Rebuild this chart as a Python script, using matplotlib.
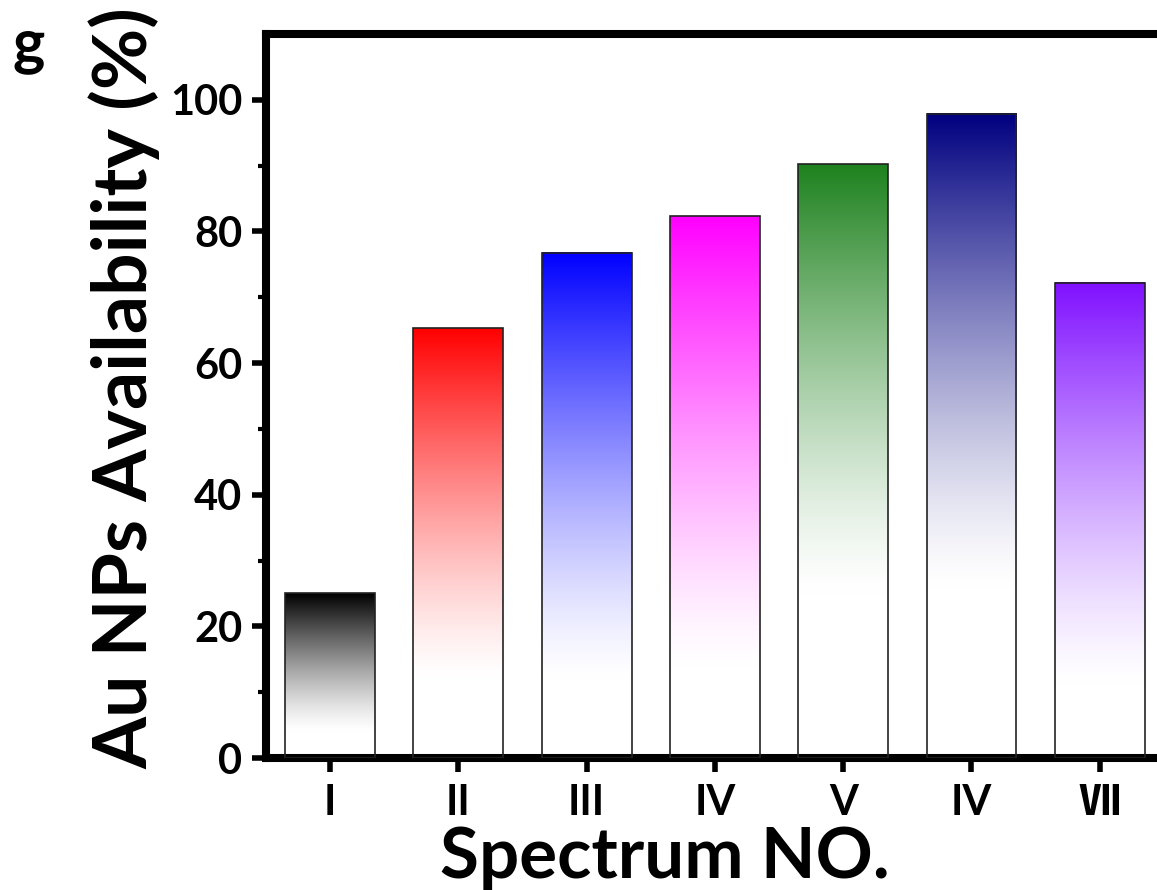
import numpy as np
import matplotlib
matplotlib.use("Agg")
import matplotlib.pyplot as plt
from matplotlib.colors import to_rgb

# ---- data ----
categories = ["I", "II", "III", "IV", "V", "IV", "Ⅶ"]
values = [25.0, 65.3, 76.8, 82.3, 90.2, 97.9, 72.2]
colors = ["#000000", "#ff0000", "#0000ff", "#ff00ff", "#1e821e", "#000080", "#8010ff"]
fade_levels = [4, 12, 12, 14, 25, 26, 11]  # value where gradient reaches white

plt.rcParams['font.family'] = ['Lato', 'Noto Sans CJK SC', 'DejaVu Sans']
plt.rcParams['font.weight'] = 'bold'

fig = plt.figure(figsize=(11.57, 8.90), dpi=100)
ax = fig.add_axes([0.2299, 0.1483, 0.776, 0.8135])

x = np.arange(1, len(values) + 1)
width = 0.7

for xi, v, c, f in zip(x, values, colors, fade_levels):
    n = 256
    ys = np.linspace(0, v, n)
    frac = np.clip((ys - f) / (v - f), 0, 1) ** 1.3
    rgb = np.array(to_rgb(c))
    img = (1 - frac[:, None]) * np.ones(3) + frac[:, None] * rgb
    img = img[:, None, :]
    ax.imshow(img, extent=(xi - width / 2, xi + width / 2, 0, v), origin='lower',
              aspect='auto', zorder=2, interpolation='bilinear')

ax.bar(x, values, width=width, facecolor='none', edgecolor='#222222', linewidth=1.2, zorder=3)

ax.set_xlim(0.5, 7.5)
ax.set_ylim(0, 110)
ax.set_xticks(x)
ax.set_xticklabels(categories)
ax.set_yticks([0, 20, 40, 60, 80, 100])
ax.set_yticks([10, 30, 50, 70, 90], minor=True)

for s in ['left', 'bottom', 'top', 'right']:
    ax.spines[s].set_linewidth(5.8)

ax.tick_params(axis='both', which='major', direction='out', length=10, width=4, labelsize=30, pad=7)
ax.tick_params(axis='y', which='minor', direction='out', length=6, width=3)
ax.tick_params(axis='x', which='major', pad=9)
ax.tick_params(axis='x', which='minor', bottom=False)

for lab in ax.get_xticklabels() + ax.get_yticklabels():
    lab.set_fontweight('bold')

ax.set_ylabel("Au NPs Availability (%)", fontsize=54, fontweight='bold')
ax.yaxis.set_label_coords(-0.118, 0.511)
ax.set_xlabel("Spectrum NO.", fontsize=51, fontweight='bold')
ax.xaxis.set_label_coords(0.444, -0.093)
ax.xaxis.label.set_va('top')

fig.text(29 / 1157, 1 - 46 / 890, 'g', fontsize=44, fontweight='bold', ha='center', va='center')

fig.savefig("out.png", dpi=100)
